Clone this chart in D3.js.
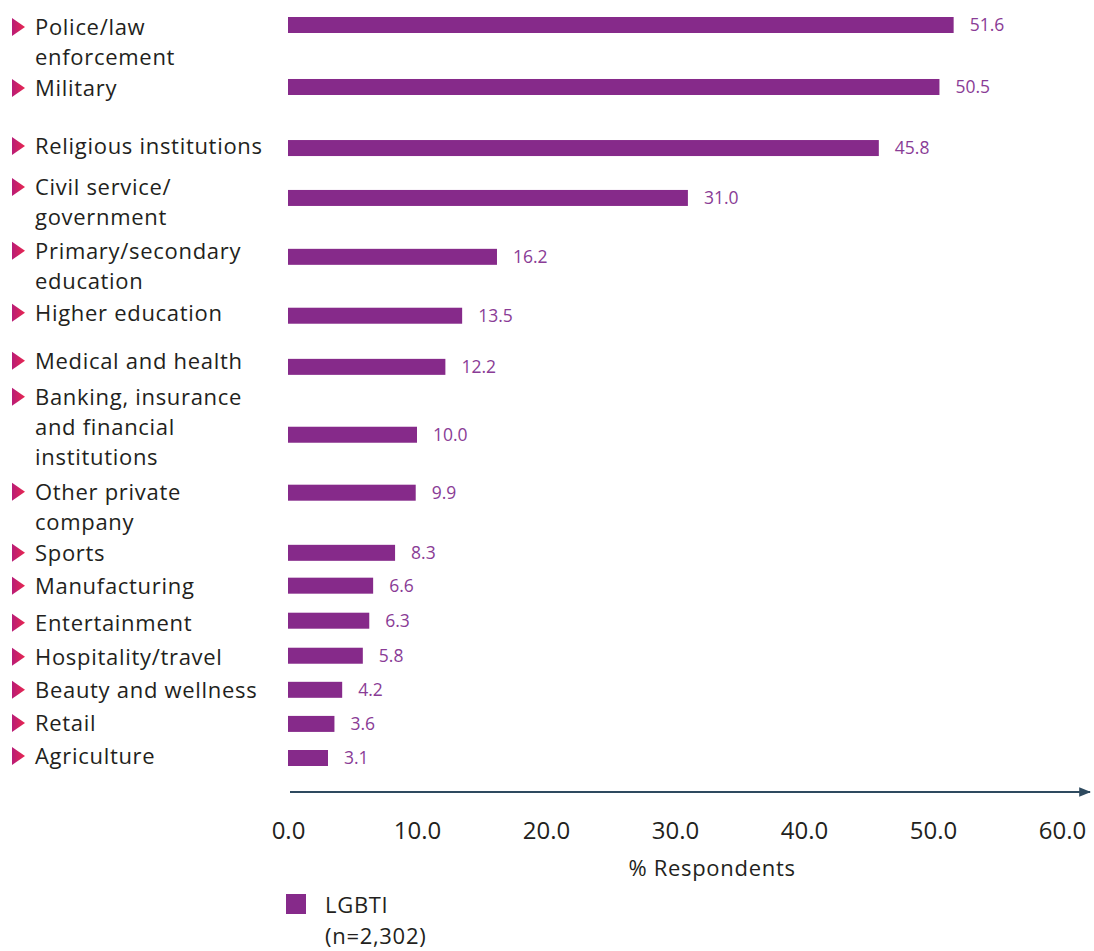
<!DOCTYPE html>
<html><head><meta charset="utf-8">
<script src="https://cdn.jsdelivr.net/npm/d3@7"></script>
<style>html,body{margin:0;padding:0;background:#fff;} svg{display:block;}</style>
</head><body>
<svg id="chart" width="1094" height="951"></svg>
<script>
// ---- data ----
const categories = [
  "Police/law\nenforcement",
  "Military",
  "Religious institutions",
  "Civil service/\ngovernment",
  "Primary/secondary\neducation",
  "Higher education",
  "Medical and health",
  "Banking, insurance\nand financial\ninstitutions",
  "Other private\ncompany",
  "Sports",
  "Manufacturing",
  "Entertainment",
  "Hospitality/travel",
  "Beauty and wellness",
  "Retail",
  "Agriculture"
];
const values = [51.6, 50.5, 45.8, 31.0, 16.2, 13.5, 12.2, 10.0, 9.9, 8.3, 6.6, 6.3, 5.8, 4.2, 3.6, 3.1];
const xTicks = [0, 10, 20, 30, 40, 50, 60];
const seriesName = "LGBTI";
const seriesNote = "(n=2,302)";
const axisTitle = "% Respondents";

// ---- layout ----
// vertical space per row (line units) and label shift relative to its bar (px)
const rowSpan = [2.0, 1.97, 1.61, 1.9, 1.9, 1.65, 2.19, 1.87, 1.94, 1.06, 1.13, 1.13, 1.1, 1.1, 1.1, 1.0];
const labelShift = [2, 1, -2, -11, -6, -3, -6, -38, -1, 0, 0, 2, 1, 0, -1, -2];
const barColor = "#862a8a";
const valueColor = "#8a3c96";
const textColor = "#231f20";
const font = "'Open Sans', Lato, sans-serif";

const svg = d3.select("#chart");
const x = d3.scaleLinear().domain([0, 60]).range([288, 1062]);

const cum = [0];
rowSpan.forEach((s, i) => cum.push(cum[i] + s));
const totalUnits = cum[rowSpan.length - 1];
const yU = d3.scaleLinear().domain([0, totalUnits]).range([25, 758]);
const y = d3.scaleOrdinal().domain(categories).range(categories.map((c, i) => yU(cum[i])));

const data = categories.map((c, i) => ({ cat: c, v: values[i], lines: c.split("\n"), shift: labelShift[i] }));
const barH = 16;
const lineH = 30;

// bars
svg.append("g").selectAll("rect").data(data).join("rect")
  .attr("x", x(0))
  .attr("y", d => y(d.cat) - barH / 2)
  .attr("width", d => x(d.v) - x(0))
  .attr("height", barH)
  .attr("fill", barColor);

// value labels
svg.append("g").selectAll("text").data(data).join("text")
  .attr("x", d => x(d.v) + 16)
  .attr("y", d => y(d.cat) + 6)
  .attr("font-family", font)
  .attr("font-size", 17.5)
  .attr("fill", valueColor)
  .text(d => d.v.toFixed(1));

// defs gradient for triangles
const defs = svg.append("defs");
const grad = defs.append("linearGradient").attr("id", "tri").attr("x1", "0").attr("x2", "1");
grad.append("stop").attr("offset", "0%").attr("stop-color", "#b81c78");
grad.append("stop").attr("offset", "100%").attr("stop-color", "#e8264f");

// category labels
const lab = svg.append("g").selectAll("g").data(data).join("g")
  .attr("transform", d => `translate(0,${y(d.cat) + d.shift})`);
lab.append("path")
  .attr("d", "M12,-9 L25,0 L12,9 Z")
  .attr("fill", "url(#tri)");
lab.append("text")
  .attr("font-family", font)
  .attr("font-size", 22)
  .attr("letter-spacing", 0.7)
  .attr("fill", textColor)
  .selectAll("tspan").data(d => d.lines).join("tspan")
  .attr("x", 35)
  .attr("y", (l, i) => 8 + i * lineH)
  .text(l => l);

// x axis
const axisY = 792;
defs.append("marker").attr("id", "arrow").attr("viewBox", "0 0 10 10")
  .attr("refX", 9).attr("refY", 5).attr("markerWidth", 6).attr("markerHeight", 6)
  .attr("orient", "auto")
  .append("path").attr("d", "M0,1 L10,5 L0,9 Z").attr("fill", "#2e4a5f");
svg.append("line")
  .attr("x1", 290).attr("x2", 1090).attr("y1", axisY).attr("y2", axisY)
  .attr("stroke", "#2e4a5f").attr("stroke-width", 2)
  .attr("marker-end", "url(#arrow)");

const ax = svg.append("g").attr("transform", `translate(0,${axisY})`)
  .call(d3.axisBottom(x).tickValues(xTicks).tickFormat(d3.format(".1f")).tickSize(0).tickPadding(30));
ax.select(".domain").remove();
ax.selectAll("text").attr("font-family", font).attr("font-size", 24).attr("fill", textColor);

svg.append("text")
  .attr("x", 712).attr("y", 876)
  .attr("text-anchor", "middle")
  .attr("font-family", font).attr("font-size", 22).attr("letter-spacing", 0.7).attr("fill", textColor)
  .text(axisTitle);

// legend
const lg = svg.append("g").attr("transform", "translate(286,894)");
lg.append("rect").attr("width", 20).attr("height", 20).attr("fill", barColor);
lg.append("text").attr("x", 39).attr("y", 19)
  .attr("font-family", font).attr("font-size", 22).attr("letter-spacing", 0.7).attr("fill", textColor).text(seriesName);
lg.append("text").attr("x", 39).attr("y", 50)
  .attr("font-family", font).attr("font-size", 22).attr("letter-spacing", 0.7).attr("fill", textColor).text(seriesNote);
</script>
</body></html>
